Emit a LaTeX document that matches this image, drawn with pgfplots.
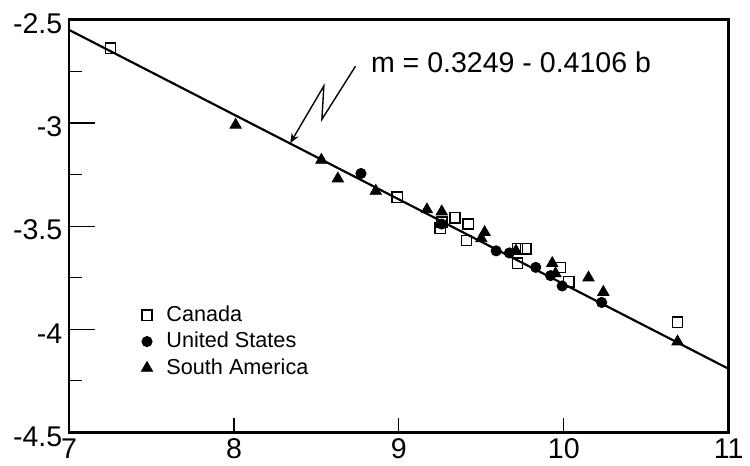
\documentclass[border=0pt]{standalone}
\usepackage{fontspec}
\setmainfont{Liberation Sans}
\usepackage{pgfplots}
\usepackage{pgfplotstable}
\pgfplotsset{compat=1.18}
\usetikzlibrary{arrows.meta}

% b (x) and m (y) for each region
\pgfplotstableread{
b      m
7.25  -2.638
8.99  -3.360
9.26  -3.480
9.34  -3.460
9.42  -3.490
9.41  -3.570
9.25  -3.510
9.72  -3.610
9.77  -3.610
9.72  -3.680
9.98  -3.700
10.03 -3.770
10.69 -3.965
}\canada

\pgfplotstableread{
b      m
8.77  -3.245
9.26  -3.490
9.59  -3.620
9.67  -3.630
9.83  -3.700
9.92  -3.740
9.99  -3.790
10.23 -3.870
}\usa

\pgfplotstableread{
b      m
8.01  -3.010
8.53  -3.180
8.63  -3.270
8.86  -3.330
9.17  -3.420
9.26  -3.430
9.52  -3.530
9.50  -3.560
9.71  -3.620
9.93  -3.680
9.95  -3.730
10.15 -3.750
10.24 -3.820
10.69 -4.060
}\southamerica

\pgfplotsset{
  common/.style={
    scale only axis, width=334bp, height=209bp,
    xmin=7, xmax=11, ymin=-4.5, ymax=-2.5,
    tick align=inside,
    every tick/.style={black, line width=0.6bp},
    tick label style={font=\fontsize{14.5}{16}\selectfont},
  },
}

\begin{document}
\begin{tikzpicture}
% frame, x ticks, data, fit line and legend
\begin{axis}[
  common,
  axis line style={line width=1.4bp},
  xtick pos=left,
  xtick={7,8,9,10,11},
  xticklabels={7,8,9,10,11},
  x tick label style={yshift=0.5bp},
  ytick=\empty,
  major tick length=7.5bp,
  legend style={draw=none, fill=none, at={(rel axis cs:0.10,0.327)},
    anchor=north west, font=\fontsize{11}{13}\selectfont,
    row sep=0bp, column sep=5bp},
  legend cell align=left,
]
\addplot[only marks, mark=square, mark size=2.6bp, black,
  mark options={line width=0.7bp}] table[x=b, y=m] {\canada};
\addlegendentry{Canada}
\addplot[only marks, mark=*, mark size=2.6bp, black] table[x=b, y=m] {\usa};
\addlegendentry{United States}
\addplot[only marks, mark=triangle*, mark size=3.3bp, black] table[x=b, y=m] {\southamerica};
\addlegendentry{South America}

% fitted relation m = 0.3249 - 0.4106 b
\addplot[black, line width=1.1bp, forget plot] coordinates {(7,-2.5493) (11,-4.1917)};

\node[font=\fontsize{14.5}{16}\selectfont, anchor=center]
  at (axis cs:9.68,-2.705) {m = 0.3249 - 0.4106 b};
\draw[black, line width=0.7bp, -{Stealth[length=5bp, width=4bp]}]
  (axis cs:8.737,-2.725) -- (axis cs:8.533,-2.983) --
  (axis cs:8.545,-2.821) -- (axis cs:8.341,-3.098);
\end{axis}

% y ticks: long majors, short minors on the left side only
\begin{axis}[
  common,
  hide x axis,
  axis line style={draw=none},
  ytick pos=left,
  ytick={-4.5,-4,-3.5,-3,-2.5},
  yticklabels={-4.5,-4,-3.5,-3,-2.5},
  y tick label style={yshift=-2bp},
  minor ytick={-4.25,-3.75,-3.25,-2.75},
  major tick length=13bp,
  minor tick length=6.5bp,
]
\end{axis}

% white margin round the plot
\path (current axis.south west) ++(-35bp,-16bp);
\path (current axis.north east) ++(6bp,10bp);
\end{tikzpicture}
\end{document}
